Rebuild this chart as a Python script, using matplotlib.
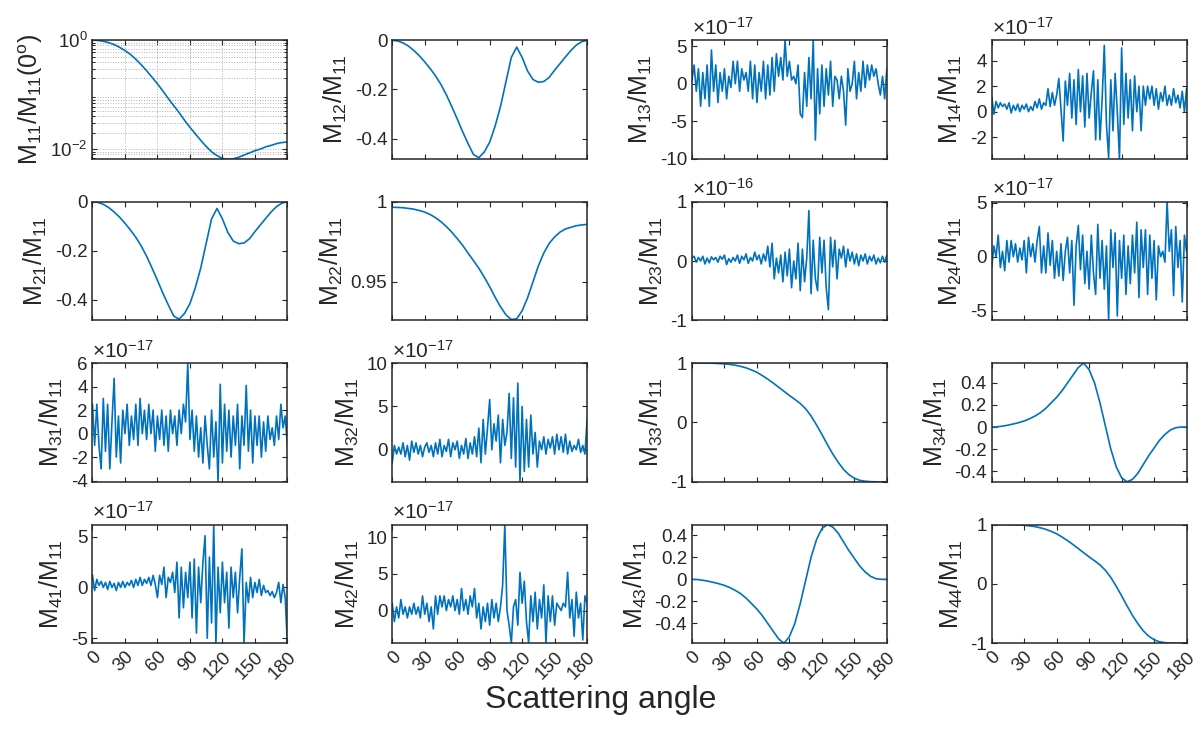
import numpy as np
import matplotlib
matplotlib.use("Agg")
import matplotlib.pyplot as plt
from matplotlib.ticker import FuncFormatter

plt.rcParams['font.family'] = ['Liberation Sans', 'DejaVu Sans']
plt.rcParams['mathtext.fontset'] = 'custom'
plt.rcParams['mathtext.rm'] = 'Liberation Sans'
plt.rcParams['mathtext.it'] = 'Liberation Sans:italic'
plt.rcParams['mathtext.default'] = 'rm'
plt.rcParams['axes.unicode_minus'] = False

# angles (deg): smooth curves every 5 deg, noisy ones every 2 deg
ang5 = np.arange(0, 181, 5)
ang2 = np.arange(0, 181, 2)

m11 = [1.0, 0.989, 0.955, 0.902, 0.832, 0.741, 0.646, 0.550, 0.447, 0.355,
       0.275, 0.209, 0.158, 0.117, 0.0851, 0.0631, 0.0468, 0.0339, 0.0251, 0.0191,
       0.0145, 0.0112, 0.00891, 0.00759, 0.00676, 0.00646, 0.00661, 0.00708, 0.00776, 0.00851,
       0.00933, 0.0100, 0.0110, 0.0117, 0.0126, 0.0132, 0.0135]

m12 = [0.0, -0.003, -0.011, -0.024, -0.042, -0.063, -0.088, -0.115, -0.145, -0.18,
       -0.222, -0.27, -0.32, -0.372, -0.42, -0.465, -0.478, -0.455, -0.415, -0.35,
       -0.27, -0.17, -0.07, -0.028, -0.07, -0.125, -0.16, -0.171, -0.168, -0.151,
       -0.122, -0.095, -0.068, -0.042, -0.02, -0.006, 0.0]
m21 = list(m12)

m22 = [0.9965, 0.9964, 0.9962, 0.9958, 0.9953, 0.9945, 0.9935, 0.992, 0.990, 0.9875,
       0.9845, 0.981, 0.977, 0.9728, 0.968, 0.9633, 0.9585, 0.9530, 0.9470, 0.9405,
       0.9345, 0.9295, 0.9265, 0.927, 0.932, 0.940, 0.950, 0.960, 0.968, 0.974,
       0.978, 0.981, 0.983, 0.984, 0.985, 0.9855, 0.9858]

m44 = [1.0, 1.0, 1.0, 0.999, 0.997, 0.993, 0.987, 0.978, 0.965, 0.945,
       0.92, 0.885, 0.845, 0.79, 0.73, 0.665, 0.595, 0.525, 0.455, 0.39,
       0.32, 0.23, 0.11, -0.04, -0.2, -0.37, -0.53, -0.67, -0.79, -0.88,
       -0.94, -0.975, -0.99, -0.997, -1.0, -1.0, -1.0]
m33 = list(m44)

m43 = [0.0, -0.002, -0.008, -0.017, -0.028, -0.04, -0.055, -0.075, -0.1, -0.13,
       -0.17, -0.22, -0.27, -0.33, -0.4, -0.47, -0.54, -0.58, -0.52, -0.4,
       -0.22, -0.01, 0.2, 0.36, 0.46, 0.497, 0.475, 0.42, 0.34, 0.26,
       0.19, 0.12, 0.067, 0.027, 0.006, 0.0, 0.0]
m34 = [-v for v in m43]

# noisy elements, in units of 1e-17 (m23 in units of 1e-16)
m13 = [0.5, 2.5, -1, 2, -3, 1.5, -2, 2.5, -3, 4.5, -1, 2.5, -2.5, 1.5, -1, 2, -2, 1, -0.5, 3,
       0, 3, -1, 2, 0.5, 1.5, -1, 3, -2, 2.5, -2.5, 1.5, -1, 3, -2, 2.5, -1.5, 3.5, -1, 4,
       1, 3.5, 0.5, 5.8, 1, 3, 0.5, 1, 0, 2.5, -4, -4.5, 1.5, -3, 3.5, -2, 5.8, -7.5, 2, -4,
       2.5, -3, 2, -1.5, 3, -3, 1, 0.5, -2, 1, -1, -5.5, 2, -1, 0, 3, -2, 1.5, -1, 3,
       -0.5, 2.5, 0.5, 2.5, 1, 2, 0, -1.5, 1, -2, 2]
m14 = [1.2, -0.2, 0.8, 0.3, 0.7, 0.4, 0.6, 0.2, 0.7, -0.1, 0.5, 0.1, 0.6, 0, 0.5, 0.2, 0.6, 0, 0.4, 0.1,
       0.8, 0.3, 1.0, 0.2, 0.7, 0.5, 1.8, 0.4, 1.5, 0.5, 1.3, 2.6, 0.2, -2.3, 2.4, 0.5, 3.0, -0.5, 2.5, -1,
       3.3, 0, 2.8, -1.2, 3.0, -0.5, 1.5, 3.2, -2.2, 2.5, -2.2, 1.0, 5.2, -1, -3.6, 2.5, -1.5, 3.0, 0, -3.7,
       5.0, -1.0, 3.0, -0.5, 2.5, -1.5, 2.8, 0, 2.0, -1.5, 2.0, 0.5, 2.0, 1.0, 2.0, 0.5, 1.8, 0.2, 1.5, 0.8,
       2.0, 0.5, 1.3, 0.5, 1.8, 0.7, 1.3, 0.3, 1.6, 0, 1.8]
m23 = [0.05, 0.08, -0.02, 0.06, 0.0, 0.08, -0.05, 0.05, -0.03, 0.07, 0.02, 0.06, -0.02, 0.08, 0.03, 0.1,
       -0.06, 0.04, -0.02, 0.06, 0.0, 0.1, -0.04, 0.08, 0.02, 0.12, -0.04, 0.06, 0.0, 0.15, 0.02, 0.1,
       -0.05, 0.12, 0.0, 0.25, -0.1, 0.3, -0.3, 0.05, -0.2, 0.1, -0.35, 0.15, -0.25, 0.2, -0.45, 0.0,
       -0.3, 0.3, -0.5, 0.2, -0.35, 0.05, 0.85, -0.55, 0.35, -0.3, -0.5, 0.4, -0.2, 0.35, -0.45, -0.82,
       0.4, -0.1, 0.35, -0.3, 0.2, 0.05, 0.25, -0.1, 0.2, 0.0, 0.15, -0.05, 0.12, -0.08, 0.1, 0.0,
       0.12, -0.05, 0.08, 0.0, 0.1, -0.05, 0.05, -0.03, 0.08, -0.02, 0.1]
m24 = [-1, 1, 0, 2, -1, 0.5, -1.3, 1.5, -0.5, 1.5, 0, 1.2, -0.5, 0.8, -0.3, 1.5, -1.5, 1.8, 0, 1.2,
       -0.5, 1.5, 2.8, -1.5, 1.0, -1.5, 2.2, -0.8, 1.5, -2.0, 0.5, -1.8, 1.2, -2.2, 0.5, 1.8, -1.5, 1.5, -4.5, 1.0,
       2.9, -1.2, 2.0, -2.5, 0.5, -3.0, 2.0, -1.5, -3.5, 3.0, -2.0, 1.5, -3.0, 1.0, -5.8, 2.5, -1.0, 2.2, -5.5, 1.5,
       -2.0, 2.0, -3.5, 1.0, -2.5, 2.0, -1.5, 3.2, -3.8, 2.5, -1.0, 2.5, -3.5, 2.0, -2.0, 1.5, -4.0, 1.0, 0, 0.5,
       -0.5, 5.1, 0.5, 2.5, -3.6, 2.8, -1.0, 1.5, -4.2, 2.0, 0.5]
m31 = [2.5, -1, 2.5, -1, -3, 3, -1.5, 2.5, -3, 1, 4.7, -2, 1.5, -2.5, 2, 0, 2.5, -1, 1.5, -0.5,
       2.5, -1, 3, 0, 2, -0.5, 2.5, 0, 2, -1.5, 1.5, -0.5, 2, -1, 1.5, -1.5, 2, 0, 1.5, -1,
       2, 0, 2.5, 1, 6.0, -0.5, 2, -1.5, 1.5, -2, 0.5, -2.5, 1.5, -1, -3, 2, -2, 1, -4.1, 4.2,
       -2.5, 2.5, -1.5, 2, -2, 1.5, -1, 2.5, -3, 1.5, -1, 4.1, -1.5, 2, -2.5, 1.5, -1, 1.5, -2, 1,
       -1.5, 1.5, -0.5, 0.5, -1, 1.5, -0.5, 2.5, 0.5, 1.5, -1]
m32 = [-1.5, 0.5, -0.5, 0.3, -0.5, 0.8, -0.8, 0.5, -1.2, 1.0, -0.3, 0.8, -0.5, 0.5, -0.8, 0.3, 0.8, -0.3, 0.5, -0.8,
       0.8, -0.5, 1.2, -0.8, 0.5, -0.2, 1.2, -0.8, 0.8, 0, 1.0, -1.0, 0.5, -0.5, 1.3, -1.0, 0.8, -0.5, 1.5, -0.8,
       2.5, -1.5, 3.5, -0.5, 2.5, 5.8, 0, 3.0, 1.0, 4.0, -1.5, 3.5, 0.5, 2.0, 6.5, -1.0, 6.0, -2.0, 7.7, -3.7,
       5.0, -2.5, 3.5, -2.0, 4.0, -0.5, 2.0, -2.0, 1.0, 0, 1.5, -0.5, 1.2, 0.2, 1.5, -0.5, 1.8, 0, 1.5, -0.3,
       1.8, -0.5, 1.0, -0.2, 0.5, 0, 1.2, -0.3, 0.5, -0.5, 3.5]
m41 = [1.2, -0.3, 0.8, 0.2, 0.6, 0, 0.5, -0.2, 0.6, 0, 0.4, -0.3, 0.5, 0, 0.6, 0, 0.5, 0.2, 0.7, 0,
       0.8, 0.2, 1.0, 0.2, 0.8, 0.4, 1.0, 0.2, 1.2, 0.3, -1.0, 1.2, 0.3, 2.0, -1.0, 1.0, 0.5, 1.5, -0.5, 2.5,
       -3.0, 2.0, -2.0, 1.5, -1.0, 2.5, -3.0, 2.8, -4.5, 2.0, -1.5, 2.5, 5.1, -5.0, 3.0, -3.5, 6.2, -5.5, 2.0, -2.5,
       2.5, -1.5, 1.5, -4.0, 2.0, -1.0, 1.5, -2.5, 1.0, 3.8, -5.5, 0.5, -1.5, 1.0, -1.0, 0.5, -0.5, 0.8, -0.8, 0.2,
       -0.5, -0.3, -0.8, -0.4, -1.0, -0.5, 0.5, -1.5, 0.3, -1.0, -5.5]
m42 = [1, -1.5, 0.5, -1.0, 1.5, -0.5, 0.5, -1.0, 0.5, -0.5, 1.0, -0.5, 0.5, -1.0, 2.0, -0.5, 1.0, -1.5, 0.5, -2.5,
       2.0, -0.5, 2.0, 0.5, 2.0, 0, 1.5, 0.5, 2.0, 0, 1.5, -0.5, 3.0, 0, 1.5, -0.5, 2.0, 0.5, 3.0, -1.0,
       1.0, -2.5, 0.5, -1.5, 1.0, -2.0, 1.5, -1.0, 1.0, -1.5, 0.5, 3.5, 11.7, 0, -2.0, -4.4, 0.5, 1.5, -2.0, 5.2,
       1.0, 4.0, -1.5, -4.4, 2.0, -1.5, 2.5, -2.5, 1.5, -1.0, 3.5, -4.4, 2.0, -1.5, 2.0, -2.0, 1.0, 0.5, 0.0, 1.0,
       0.5, 5.2, -1.0, 1.5, -3.5, 2.5, -1.0, 1.0, -4.0, 2.0, 1.0]

BLUE = '#0072BD'
DARK = '#262626'

# (name, x, y, scale, ylim, yticks)
panels = [
    ['11', ang5, m11, 1, (0.0066, 1.0), None],
    ['12', ang5, m12, 1, (-0.483, 0.0), [-0.4, -0.2, 0]],
    ['13', ang2, m13, 1e-17, (-10, 5.8), [-10, -5, 0, 5]],
    ['14', ang2, m14, 1e-17, (-3.7, 5.6), [-2, 0, 2, 4]],
    ['21', ang5, m21, 1, (-0.483, 0.0), [-0.4, -0.2, 0]],
    ['22', ang5, m22, 1, (0.926, 1.0), [0.95, 1]],
    ['23', ang2, m23, 1e-16, (-1, 1), [-1, 0, 1]],
    ['24', ang2, m24, 1e-17, (-5.9, 5.1), [-5, 0, 5]],
    ['31', ang2, m31, 1e-17, (-4.1, 6.0), [-4, -2, 0, 2, 4, 6]],
    ['32', ang2, m32, 1e-17, (-3.7, 10), [0, 5, 10]],
    ['33', ang5, m33, 1, (-1, 1), [-1, 0, 1]],
    ['34', ang5, m34, 1, (-0.497, 0.58), [-0.4, -0.2, 0, 0.2, 0.4]],
    ['41', ang2, m41, 1e-17, (-5.5, 6.2), [-5, 0, 5]],
    ['42', ang2, m42, 1e-17, (-4.45, 11.7), [0, 5, 10]],
    ['43', ang5, m43, 1, (-0.58, 0.497), [-0.4, -0.2, 0, 0.2, 0.4]],
    ['44', ang5, m44, 1, (-1, 1), [-1, 0, 1]],
]

fig, axes = plt.subplots(4, 4, figsize=(12.01, 7.31), dpi=100)
fig.subplots_adjust(left=0.077, right=0.988, top=0.945, bottom=0.12, wspace=0.538, hspace=0.36)

for i, (name, x, y, sc, ylim, yt) in enumerate(panels):
    ax = axes.flat[i]
    yv = np.array(y) * sc
    ax.plot(x, yv, color=BLUE, lw=1.2)
    ax.set_xlim(0, 180)
    ax.set_xticks(range(0, 181, 30))
    if name == '11':
        ax.set_yscale('log')
        ax.set_ylim(*ylim)
        ax.set_yticks([1e-2, 1])
        ax.set_yticklabels([r'$10^{-2}$', r'$10^{0}$'])
        ax.grid(True, which='both', axis='y', ls=':', color='#b0b0b0', lw=0.7)
        ax.grid(True, which='major', axis='x', ls=':', color='#b0b0b0', lw=0.7)
        ax.set_ylabel(r'M$_{11}$/M$_{11}$(0$^{o}$)', fontsize=18, color=DARK)
    else:
        ax.set_ylim(ylim[0] * sc, ylim[1] * sc)
        ax.set_yticks(np.array(yt) * sc)
        ax.yaxis.set_major_formatter(FuncFormatter(lambda v, p, s=sc: '%g' % round(v / s, 6)))
        if sc != 1:
            exp = int(round(np.log10(sc)))
            ax.text(0.0, 1.015, r'$\times$10$^{%d}$' % exp, transform=ax.transAxes,
                    ha='left', va='bottom', fontsize=15, color=DARK)
        ax.set_ylabel('M$_{%s}$/M$_{11}$' % name, fontsize=18, color=DARK)
    ax.tick_params(direction='in', top=True, right=True, length=3.5, width=0.8,
                   labelsize=13.5, colors=DARK)
    ax.tick_params(which='minor', direction='in', right=True, length=2)
    for sp in ax.spines.values():
        sp.set_color(DARK)
        sp.set_linewidth(1.1)
    if i >= 12:
        ax.set_xticklabels([str(v) for v in range(0, 181, 30)], rotation=45,
                           ha='right', va='top', rotation_mode='anchor')
    else:
        ax.set_xticklabels([])

fig.text(0.5, 0.022, 'Scattering angle', ha='center', va='bottom', fontsize=23, color=DARK)

fig.savefig('out.png', dpi=100)
